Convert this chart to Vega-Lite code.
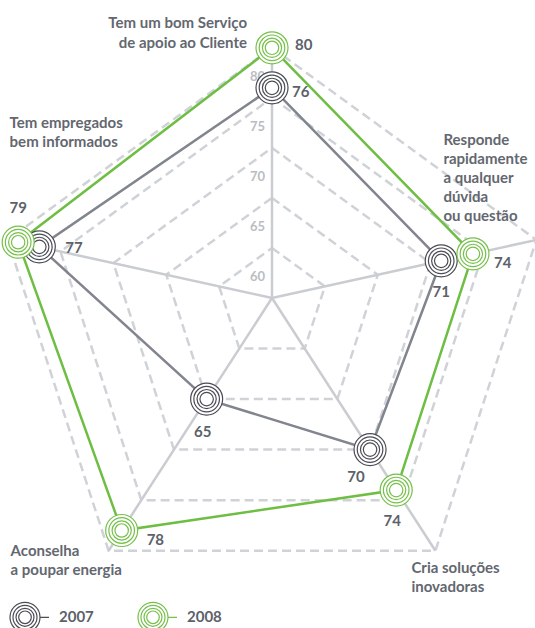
{
  "$schema": "https://vega.github.io/schema/vega-lite/v6.json",
  "width": 535,
  "height": 628,
  "padding": 0,
  "autosize": {"type": "none"},
  "background": "white",
  "config": {"view": {"stroke": null}, "font": "Lato"},
  "datasets": {
    "axes": [
      {"i": 0, "label": ["Tem um bom Serviço", "de apoio ao Cliente"]},
      {"i": 1, "label": ["Responde", "rapidamente", "a qualquer", "dúvida", "ou questão"]},
      {"i": 2, "label": ["Cria soluções", "inovadoras"]},
      {"i": 3, "label": ["Aconselha", "a poupar energia"]},
      {"i": 4, "label": ["Tem empregados", "bem informados"]}
    ],
    "grid": [
      {"level": 60, "i": 0}, {"level": 60, "i": 1}, {"level": 60, "i": 2}, {"level": 60, "i": 3}, {"level": 60, "i": 4},
      {"level": 65, "i": 0}, {"level": 65, "i": 1}, {"level": 65, "i": 2}, {"level": 65, "i": 3}, {"level": 65, "i": 4},
      {"level": 70, "i": 0}, {"level": 70, "i": 1}, {"level": 70, "i": 2}, {"level": 70, "i": 3}, {"level": 70, "i": 4},
      {"level": 75, "i": 0}, {"level": 75, "i": 1}, {"level": 75, "i": 2}, {"level": 75, "i": 3}, {"level": 75, "i": 4},
      {"level": 80, "i": 0}, {"level": 80, "i": 1}, {"level": 80, "i": 2}, {"level": 80, "i": 3}, {"level": 80, "i": 4}
    ],
    "ticks": [{"level": 60}, {"level": 65}, {"level": 70}, {"level": 75}, {"level": 80}],
    "scores": [
      {"i": 0, "axis": "Tem um bom Serviço de apoio ao Cliente", "year": "2007", "value": 76},
      {"i": 1, "axis": "Responde rapidamente a qualquer dúvida ou questão", "year": "2007", "value": 71},
      {"i": 2, "axis": "Cria soluções inovadoras", "year": "2007", "value": 70},
      {"i": 3, "axis": "Aconselha a poupar energia", "year": "2007", "value": 65},
      {"i": 4, "axis": "Tem empregados bem informados", "year": "2007", "value": 77},
      {"i": 0, "axis": "Tem um bom Serviço de apoio ao Cliente", "year": "2008", "value": 80},
      {"i": 1, "axis": "Responde rapidamente a qualquer dúvida ou questão", "year": "2008", "value": 74},
      {"i": 2, "axis": "Cria soluções inovadoras", "year": "2008", "value": 74},
      {"i": 3, "axis": "Aconselha a poupar energia", "year": "2008", "value": 78},
      {"i": 4, "axis": "Tem empregados bem informados", "year": "2008", "value": 79}
    ]
  },
  "layer": [
    {
      "data": {"name": "grid"},
      "transform": [
        {"calculate": "datum.i*72*PI/180", "as": "a"},
        {"calculate": "(datum.level-55)/25", "as": "f"},
        {"calculate": "datum.f*sin(datum.a)", "as": "x"},
        {"calculate": "datum.f*(cos(datum.a)-0.1)", "as": "y"}
      ],
      "mark": {"type": "line", "interpolate": "linear-closed", "stroke": "#cfd2d7", "strokeWidth": 2.5, "strokeDash": [9, 5]},
      "encoding": {
        "x": {"field": "x", "type": "quantitative", "scale": {"domain": [-0.97842, 0.94604], "nice": false, "zero": false}, "axis": null},
        "y": {"field": "y", "type": "quantitative", "scale": {"domain": [-1.18705, 1.07194], "nice": false, "zero": false}, "axis": null},
        "detail": {"field": "level"},
        "order": {"field": "i"}
      }
    },
    {
      "data": {"name": "axes"},
      "transform": [
        {"calculate": "datum.i*72*PI/180", "as": "a"},
        {"calculate": "sin(datum.a)", "as": "x"},
        {"calculate": "cos(datum.a)-0.1", "as": "y"}
      ],
      "encoding": {
        "x": {"field": "x", "type": "quantitative", "axis": null},
        "y": {"field": "y", "type": "quantitative", "axis": null}
      },
      "layer": [
        {
          "mark": {"type": "rule", "stroke": "#c9ccd1", "strokeWidth": 2.5},
          "encoding": {"x2": {"datum": 0}, "y2": {"datum": 0}}
        },
        {
          "transform": [{"filter": "datum.i==0"}],
          "mark": {"type": "text", "align": "right", "baseline": "alphabetic", "dx": -25, "dy": -20, "lineHeight": 20, "fontSize": 15, "fontWeight": "bold", "fill": "#63676f"},
          "encoding": {"text": {"field": "label"}}
        },
        {
          "transform": [{"filter": "datum.i==1"}],
          "mark": {"type": "text", "align": "left", "baseline": "alphabetic", "dx": -93, "dy": -95, "lineHeight": 19, "fontSize": 15, "fontWeight": "bold", "fill": "#63676f"},
          "encoding": {"text": {"field": "label"}}
        },
        {
          "transform": [{"filter": "datum.i==2"}],
          "mark": {"type": "text", "align": "left", "baseline": "alphabetic", "dx": -24, "dy": 22, "lineHeight": 19, "fontSize": 15, "fontWeight": "bold", "fill": "#63676f"},
          "encoding": {"text": {"field": "label"}}
        },
        {
          "transform": [{"filter": "datum.i==3"}],
          "mark": {"type": "text", "align": "left", "baseline": "alphabetic", "dx": -98, "dy": 5, "lineHeight": 19, "fontSize": 15, "fontWeight": "bold", "fill": "#63676f"},
          "encoding": {"text": {"field": "label"}}
        },
        {
          "transform": [{"filter": "datum.i==4"}],
          "mark": {"type": "text", "align": "left", "baseline": "alphabetic", "dx": 2, "dy": -112, "lineHeight": 19, "fontSize": 15, "fontWeight": "bold", "fill": "#63676f"},
          "encoding": {"text": {"field": "label"}}
        }
      ]
    },
    {
      "data": {"name": "ticks"},
      "transform": [
        {"calculate": "(datum.level-55)/25", "as": "f"},
        {"calculate": "0", "as": "x"},
        {"calculate": "datum.f*0.9", "as": "y"}
      ],
      "mark": {"type": "text", "align": "right", "baseline": "middle", "dx": -7, "dy": 29, "fontSize": 13, "fontWeight": "bold", "fill": "#b9bdc3"},
      "encoding": {
        "x": {"field": "x", "type": "quantitative", "axis": null},
        "y": {"field": "y", "type": "quantitative", "axis": null},
        "text": {"field": "level"}
      }
    },
    {
      "data": {"name": "scores"},
      "transform": [
        {"calculate": "datum.i*72*PI/180", "as": "a"},
        {"calculate": "(datum.value-55)/25", "as": "f"},
        {"calculate": "datum.f*sin(datum.a)", "as": "x"},
        {"calculate": "datum.f*(cos(datum.a)-0.1)", "as": "y"}
      ],
      "encoding": {
        "x": {"field": "x", "type": "quantitative", "axis": null},
        "y": {"field": "y", "type": "quantitative", "axis": null}
      },
      "layer": [
        {
          "transform": [{"filter": "datum.year=='2007'"}],
          "mark": {"type": "line", "interpolate": "linear-closed", "strokeWidth": 2.5, "stroke": "#80858e"},
          "encoding": {"order": {"field": "i"}}
        },
        {
          "transform": [{"filter": "datum.year=='2008'"}],
          "mark": {"type": "line", "interpolate": "linear-closed", "strokeWidth": 2.5, "stroke": "#6fbe44"},
          "encoding": {"order": {"field": "i"}}
        },
        {
          "mark": {"type": "point", "shape": "M -1 0 A 1 1 0 1 1 1 0 A 1 1 0 1 1 -1 0 Z M -0.8 0 A 0.8 0.8 0 1 1 0.8 0 A 0.8 0.8 0 1 1 -0.8 0 Z M -0.6 0 A 0.6 0.6 0 1 1 0.6 0 A 0.6 0.6 0 1 1 -0.6 0 Z M -0.42 0 A 0.42 0.42 0 1 1 0.42 0 A 0.42 0.42 0 1 1 -0.42 0 Z", "size": 1024, "fill": "white", "filled": true, "opacity": 1, "strokeWidth": 1.2},
          "encoding": {
            "stroke": {
              "field": "year", "type": "nominal",
              "scale": {"domain": ["2007", "2008"], "range": ["#4a4d55", "#76c04a"]},
              "legend": {
                "orient": "none", "legendX": 9, "legendY": 601, "direction": "horizontal", "title": null,
                "symbolType": "M -1 0 A 1 1 0 1 1 1 0 A 1 1 0 1 1 -1 0 Z M -0.8 0 A 0.8 0.8 0 1 1 0.8 0 A 0.8 0.8 0 1 1 -0.8 0 Z M -0.6 0 A 0.6 0.6 0 1 1 0.6 0 A 0.6 0.6 0 1 1 -0.6 0 Z M -0.42 0 A 0.42 0.42 0 1 1 0.42 0 A 0.42 0.42 0 1 1 -0.42 0 Z M 1 0 L 1.6 0",
                "symbolSize": 900, "symbolStrokeWidth": 1.2, "symbolFillColor": "white", "symbolOpacity": 1,
                "labelFont": "Lato", "labelFontSize": 15, "labelFontWeight": "bold", "labelColor": "#5d6169",
                "labelOffset": 18, "columnPadding": 41
              }
            }
          }
        },
        {
          "transform": [{"filter": "datum.i==0 && datum.year=='2008'"}],
          "mark": {"type": "text", "align": "left", "baseline": "middle", "dx": 23, "dy": -3, "fontSize": 15, "fontWeight": "bold", "fill": "#5d6169"},
          "encoding": {"text": {"field": "value"}}
        },
        {
          "transform": [{"filter": "datum.i==0 && datum.year=='2007'"}],
          "mark": {"type": "text", "align": "left", "baseline": "middle", "dx": 20, "dy": 4, "fontSize": 15, "fontWeight": "bold", "fill": "#5d6169"},
          "encoding": {"text": {"field": "value"}}
        },
        {
          "transform": [{"filter": "datum.i==1 && datum.year=='2008'"}],
          "mark": {"type": "text", "align": "left", "baseline": "middle", "dx": 21, "dy": 9, "fontSize": 15, "fontWeight": "bold", "fill": "#5d6169"},
          "encoding": {"text": {"field": "value"}}
        },
        {
          "transform": [{"filter": "datum.i==1 && datum.year=='2007'"}],
          "mark": {"type": "text", "align": "center", "baseline": "middle", "dx": 0, "dy": 31, "fontSize": 15, "fontWeight": "bold", "fill": "#5d6169"},
          "encoding": {"text": {"field": "value"}}
        },
        {
          "transform": [{"filter": "datum.i==2 && datum.year=='2007'"}],
          "mark": {"type": "text", "align": "center", "baseline": "middle", "dx": -14, "dy": 27, "fontSize": 15, "fontWeight": "bold", "fill": "#5d6169"},
          "encoding": {"text": {"field": "value"}}
        },
        {
          "transform": [{"filter": "datum.i==2 && datum.year=='2008'"}],
          "mark": {"type": "text", "align": "center", "baseline": "middle", "dx": -4, "dy": 31, "fontSize": 15, "fontWeight": "bold", "fill": "#5d6169"},
          "encoding": {"text": {"field": "value"}}
        },
        {
          "transform": [{"filter": "datum.i==3 && datum.year=='2007'"}],
          "mark": {"type": "text", "align": "center", "baseline": "middle", "dx": -4, "dy": 33, "fontSize": 15, "fontWeight": "bold", "fill": "#5d6169"},
          "encoding": {"text": {"field": "value"}}
        },
        {
          "transform": [{"filter": "datum.i==3 && datum.year=='2008'"}],
          "mark": {"type": "text", "align": "left", "baseline": "middle", "dx": 25, "dy": 10, "fontSize": 15, "fontWeight": "bold", "fill": "#5d6169"},
          "encoding": {"text": {"field": "value"}}
        },
        {
          "transform": [{"filter": "datum.i==4 && datum.year=='2008'"}],
          "mark": {"type": "text", "align": "center", "baseline": "middle", "dx": 0, "dy": -34, "fontSize": 15, "fontWeight": "bold", "fill": "#5d6169"},
          "encoding": {"text": {"field": "value"}}
        },
        {
          "transform": [{"filter": "datum.i==4 && datum.year=='2007'"}],
          "mark": {"type": "text", "align": "left", "baseline": "middle", "dx": 26, "dy": 1, "fontSize": 15, "fontWeight": "bold", "fill": "#5d6169"},
          "encoding": {"text": {"field": "value"}}
        }
      ]
    }
  ]
}
